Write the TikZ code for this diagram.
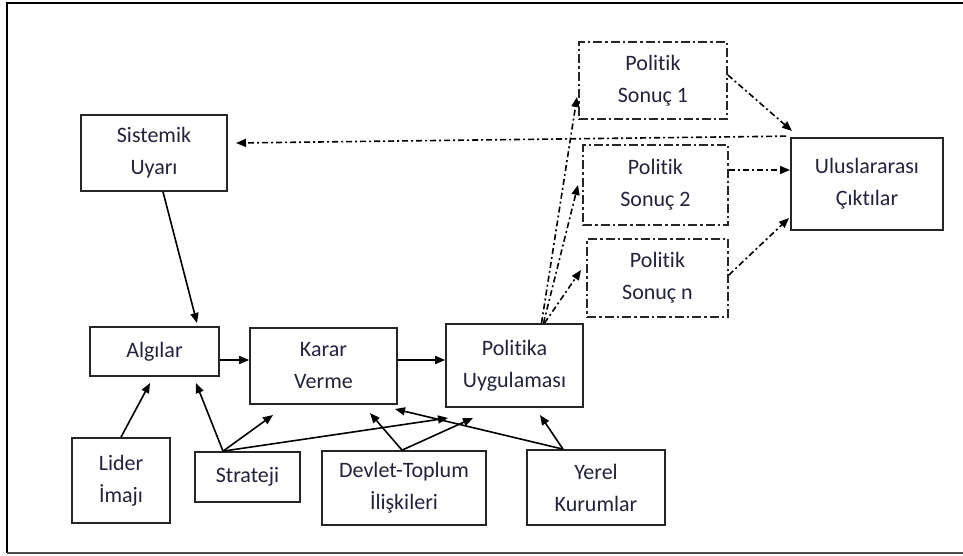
\documentclass[tikz,border=0pt]{standalone}
\usepackage{fontspec}
\setmainfont[Ligatures=NoCommon]{Carlito}
\usetikzlibrary{arrows.meta}
\definecolor{txt}{RGB}{34,34,58}
\begin{document}
\begin{tikzpicture}[x=1pt,y=-1pt,
  box/.style={draw=black!85,line width=1.7pt,minimum width=#1,inner sep=0pt,align=center,
    font=\fontsize{22}{32}\selectfont,text=txt},
  dbox/.style={box=#1,dash pattern=on 9pt off 3pt on 2.5pt off 3pt},
  arr/.style={line width=1.6pt,-{Triangle[length=10pt,width=8pt]}},
  darr/.style={arr,dash pattern=on 6pt off 3pt on 2pt off 3pt}]
\useasboundingbox (0,0) rectangle (963,555);
% frame
\draw[line width=2.5pt] (963,3) -- (7,3) -- (7,553);
\draw[line width=2pt,black!70] (7,553) -- (963,553);
% nodes
\node[box=146pt,minimum height=76pt] (sis) at (154,153) {Sistemik\\Uyarı};
\node[box=129pt,minimum height=49pt] (alg) at (154.5,351.5) {Algılar};
\node[box=147pt,minimum height=76pt] (kar) at (323.5,366) {Karar\\Verme};
\node[box=137pt,minimum height=83pt] (pol) at (514.5,365.5) {Politika\\Uygulaması};
\node[box=98pt,minimum height=85pt] (lid) at (121,480.5) {Lider\\İmajı};
\node[box=105pt,minimum height=50pt] (str) at (247.5,477) {Strateji};
\node[box=164pt,minimum height=74pt] (dev) at (404,488) {Devlet-Toplum\\İlişkileri};
\node[box=138pt,minimum height=75pt] (yer) at (596,487.5) {Yerel\\Kurumlar};
\node[dbox=148pt,minimum height=77pt] (s1) at (653,80.5) {Politik\\Sonuç 1};
\node[dbox=145pt,minimum height=80pt] (s2) at (655.5,185) {Politik\\Sonuç 2};
\node[dbox=141pt,minimum height=78pt] (sn) at (657.5,278) {Politik\\Sonuç n};
\node[box=152pt,minimum height=92pt] (ulu) at (867,184) {Uluslararası\\Çıktılar};
% arrow end points
\coordinate (tSisAlg) at (197,323);
\coordinate (tLidAlg) at (150,383);
\coordinate (tStrAlg) at (196,383);
\coordinate (tStrKar) at (273,415);
\coordinate (tStrPol) at (448,418);
\coordinate (tDevKar) at (370,413);
\coordinate (tDevPol) at (473,418);
\coordinate (tYerKar) at (395,409);
\coordinate (tYerPol) at (540,415);
\coordinate (tPolS1) at (577,97);
\coordinate (tPolS2) at (578,185);
\coordinate (tPolSn) at (581,270);
\coordinate (tS1Ulu) at (792,131);
\coordinate (tS2Ulu) at (790,170);
\coordinate (tSnUlu) at (789,218);
\coordinate (tUluSis) at (236,143);
% solid arrows
\draw[arr] ([xshift=9pt]sis.south) -- (tSisAlg);
\draw[arr] ([yshift=-8.5pt]alg.east) -- ([yshift=6pt]kar.west);
\draw[arr] ([yshift=6pt]kar.east) -- ([yshift=5.5pt]pol.west);
\draw[arr] (lid.north) -- (tLidAlg);
\draw[arr] ([xshift=-24.5pt]str.north) -- (tStrAlg);
\draw[arr] ([xshift=-24.5pt]str.north) -- (tStrKar);
\draw[arr] ([xshift=-24.5pt]str.north) -- (tStrPol);
\draw[arr] ([xshift=-2pt]dev.north) -- (tDevKar);
\draw[arr] ([xshift=-2pt]dev.north) -- (tDevPol);
\draw[arr] ([xshift=-33pt]yer.north) -- (tYerKar);
\draw[arr] ([xshift=-33pt]yer.north) -- (tYerPol);
% dash-dot arrows
\draw[darr] ([xshift=27pt]pol.north) -- (tPolS1);
\draw[darr] ([xshift=29pt]pol.north) -- (tPolS2);
\draw[darr] ([xshift=30pt]pol.north) -- (tPolSn);
\draw[darr] ([yshift=5.5pt]s1.east) -- (tS1Ulu);
\draw[darr] ([yshift=15pt]s2.east) -- (tS2Ulu);
\draw[darr] ([yshift=3pt]sn.east) -- (tSnUlu);
\draw[darr] ([xshift=-4pt,yshift=1pt]ulu.north west) -- (tUluSis);
\end{tikzpicture}
\end{document}
